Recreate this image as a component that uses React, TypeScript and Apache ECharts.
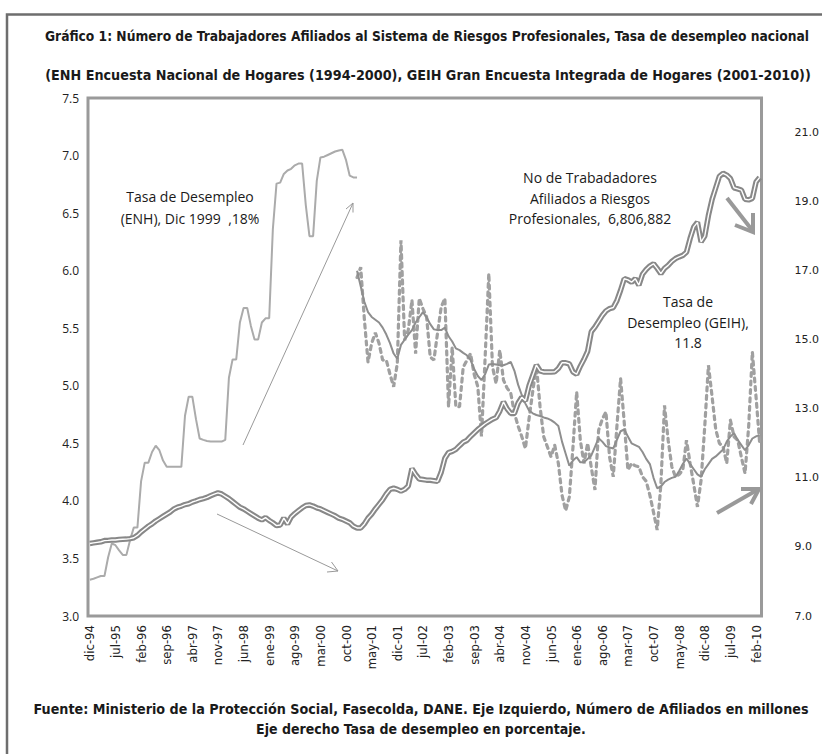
import React, { useEffect, useRef } from "react";
import * as echarts from "echarts";

const MONTHS = ["ene", "feb", "mar", "abr", "may", "jun", "jul", "ago", "sep", "oct", "nov", "dic"];
const N_MONTHS = 184; // dic-94 .. mar-10

// Tasa de desempleo ENH (%), dic-94 .. ene-01 (right axis)
const enh = [
  8.05, 8.08, 8.12, 8.16, 8.16, 8.7, 9.1, 9.05, 8.9, 8.77,
  8.77, 9.2, 9.56, 9.56, 10.9, 11.44, 11.44, 11.75, 11.93, 11.8,
  11.5, 11.32, 11.32, 11.32, 11.32, 11.32, 12.8, 13.35, 13.35, 12.7,
  12.14, 12.1, 12.07, 12.05, 12.05, 12.05, 12.05, 12.1, 13.9, 14.43,
  14.43, 15.5, 15.92, 15.92, 15.4, 15.01, 15.01, 15.5, 15.62, 15.62,
  18.2, 19.52, 19.55, 19.8, 19.9, 19.95, 20.05, 20.1, 20.1, 18.9,
  18.0, 18.0, 19.6, 20.28, 20.3, 20.35, 20.4, 20.45, 20.48, 20.5,
  20.2, 19.75, 19.7, 19.7,
];

// Afiliados a Riesgos Profesionales (millones), dic-94 .. mar-10 (left axis)
const afiliados = [
  3.63, 3.635, 3.64, 3.645, 3.655, 3.657, 3.66, 3.66, 3.665, 3.667,
  3.668, 3.672, 3.68, 3.70, 3.73, 3.755, 3.78, 3.80, 3.825, 3.845,
  3.865, 3.885, 3.905, 3.93, 3.945, 3.955, 3.968, 3.975, 3.99, 4.0,
  4.012, 4.02, 4.03, 4.045, 4.058, 4.07, 4.06, 4.04, 4.02, 3.995,
  3.97, 3.945, 3.93, 3.91, 3.89, 3.87, 3.85, 3.835, 3.855, 3.83,
  3.81, 3.785, 3.79, 3.85, 3.80, 3.86, 3.89, 3.915, 3.94, 3.96,
  3.965, 3.955, 3.94, 3.93, 3.915, 3.90, 3.885, 3.87, 3.85, 3.84,
  3.825, 3.81, 3.78, 3.765, 3.765, 3.80, 3.85, 3.885, 3.93, 3.97,
  4.01, 4.06, 4.10, 4.11, 4.10, 4.085, 4.10, 4.13, 4.28, 4.23,
  4.19, 4.186, 4.18, 4.18, 4.175, 4.17, 4.25, 4.37, 4.42, 4.43,
  4.448, 4.48, 4.51, 4.525, 4.56, 4.59, 4.62, 4.645, 4.67, 4.69,
  4.71, 4.724, 4.78, 4.86, 4.80, 4.76, 4.76, 4.85, 4.90, 4.87,
  5.0, 5.09, 5.18, 5.13, 5.12, 5.12, 5.12, 5.122, 5.15, 5.20,
  5.20, 5.19, 5.12, 5.10, 5.17, 5.23, 5.30, 5.47, 5.51, 5.56,
  5.61, 5.65, 5.67, 5.68, 5.74, 5.83, 5.93, 5.92, 5.90, 5.93,
  5.875, 5.97, 6.01, 6.04, 6.06, 6.02, 5.975, 6.02, 6.046, 6.08,
  6.105, 6.12, 6.133, 6.16, 6.28, 6.38, 6.42, 6.25, 6.30, 6.48,
  6.62, 6.72, 6.82, 6.846, 6.83, 6.80, 6.72, 6.71, 6.70, 6.62,
  6.615, 6.628, 6.77, 6.81,
];

// GEIH starts at ene-01 (index 73)
const GEIH_START = 73;

// Tasa de desempleo GEIH mensual (%), ene-01 .. mar-10 (right axis, dashed)
const geihMensual = [
  16.8, 17.1, 15.6, 14.35, 14.9, 15.2, 14.9, 14.41, 14.41, 14.0,
  13.64, 14.31, 17.88, 14.99, 15.28, 16.15, 14.6, 16.2, 15.9, 15.66,
  14.5, 14.41, 15.2, 15.95, 16.2, 13.06, 14.79, 13.06, 13.06, 14.2,
  14.4, 14.6, 14.0, 13.64, 12.2, 14.5, 16.92, 14.22, 13.73, 14.7,
  13.83, 13.6, 13.45, 12.87, 12.5, 12.2, 11.85, 12.72, 13.5, 14.26,
  13.06, 12.19, 11.9, 11.61, 11.95, 11.42, 10.5, 10.05, 10.45, 11.9,
  13.49, 12.09, 11.42, 12.0, 11.3, 10.65, 12.38, 12.7, 12.91, 11.6,
  11.03, 12.5, 13.88, 12.6, 11.23, 11.42, 11.35, 11.32, 11.03, 10.9,
  10.5, 10.0, 9.49, 10.8, 13.1, 12.09, 11.32, 11.03, 11.1, 11.23,
  12.09, 11.42, 10.8, 10.16, 10.94, 12.5, 14.26, 13.35, 12.4, 12.0,
  11.9, 11.42, 12.67, 12.19, 12.09, 11.6, 11.13, 12.5, 14.65, 13.35,
  12.0,
];

// Tasa de desempleo GEIH (tendencia), ene-01 .. mar-10 (right axis, solid)
const geihTendencia = [
  17.0, 16.55, 16.1, 15.8, 15.66, 15.58, 15.5, 15.35, 15.15, 14.9,
  14.6, 14.45, 14.85, 15.0, 15.15, 15.28, 15.5, 15.65, 15.8, 15.65,
  15.45, 15.3, 15.28, 15.28, 15.35, 15.1, 14.95, 14.75, 14.7, 14.62,
  14.55, 14.42, 14.15, 13.95, 13.83, 14.0, 14.28, 14.3, 14.28, 14.26,
  14.26, 14.3, 14.36, 14.1, 13.7, 13.4, 13.15, 12.95, 12.87, 12.82,
  12.79, 12.75, 12.72, 12.67, 12.6, 12.5, 12.05, 11.7, 11.35, 11.5,
  11.6, 11.45, 11.45, 11.55, 11.65, 11.9, 12.15, 12.05, 11.92, 11.88,
  11.85, 12.1, 12.35, 12.4, 12.2, 12.0, 11.95, 11.9, 11.75, 11.55,
  11.4, 11.0, 10.7, 10.75, 10.88, 10.95, 11.0, 11.03, 11.2, 11.4,
  11.56, 11.4, 11.25, 11.1, 11.03, 11.25, 11.4, 11.55, 11.62, 11.72,
  11.82, 12.05, 12.2, 12.29, 12.1, 11.95, 11.8, 11.95, 12.14, 12.2,
  12.24,
];

const TITLE_1 = "Gráfico 1: Número de Trabajadores Afiliados al Sistema de Riesgos Profesionales, Tasa de desempleo nacional";
const TITLE_2 = "(ENH Encuesta Nacional de Hogares (1994-2000), GEIH Gran Encuesta Integrada de Hogares (2001-2010))";
const FOOT_1 = "Fuente: Ministerio de la Protección Social, Fasecolda, DANE. Eje Izquierdo, Número de Afiliados en millones";
const FOOT_2 = "Eje derecho Tasa de desempleo en porcentaje.";

const categories: string[] = [];
for (let k = 0; k < N_MONTHS; k++) {
  const m = (11 + k) % 12;
  const y = (94 + Math.floor((11 + k) / 12)) % 100;
  categories.push(MONTHS[m] + "-" + String(y).padStart(2, "0"));
}

function pad(values: number[], start: number): (number | null)[] {
  const out: (number | null)[] = [];
  for (let k = 0; k < N_MONTHS; k++) {
    const j = k - start;
    out.push(j >= 0 && j < values.length ? values[j] : null);
  }
  return out;
}

const NARROW = "'Liberation Sans Narrow', 'Arial Narrow', 'DejaVu Sans Condensed', sans-serif";
const ANNOT = "'Open Sans', 'Noto Sans', sans-serif";

function arrowHead(tip: number[], w1: number[], w2: number[], width: number) {
  return {
    type: "polyline",
    shape: { points: [w1, tip, w2] },
    style: { stroke: "#999", lineWidth: width, fill: null, lineJoin: "miter" },
    z: 100,
  };
}

export default function App() {
  const ref = useRef<HTMLDivElement>(null);
  useEffect(() => {
    if (!ref.current) return;
    const chart = echarts.init(ref.current, undefined, { renderer: "svg" });
    const txt = (x: number, y: number, text: string, font: any) => ({
      type: "text",
      x,
      y,
      z: 100,
      ...(font.scaleX ? { scaleX: font.scaleX } : {}),
      style: {
        text,
        fill: font.fill || "#1a1a1a",
        fontSize: font.size,
        fontFamily: font.family,
        fontWeight: font.weight || "normal",
        lineHeight: font.lineHeight,
        align: "center",
        textAlign: "center",
        verticalAlign: "middle",
        textVerticalAlign: "middle",
      },
    });
    chart.setOption({
      animation: false,
      backgroundColor: "#ffffff",
      grid: {
        left: 88,
        right: 60,
        top: 98,
        bottom: 138,
        show: true,
        borderColor: "#9a9a9a",
        borderWidth: 3,
        backgroundColor: "transparent",
      },
      xAxis: {
        type: "category",
        data: categories,
        boundaryGap: true,
        axisLine: { show: false },
        axisTick: { show: false },
        splitLine: { show: false },
        axisLabel: {
          interval: 6,
          rotate: 90,
          margin: 9,
          fontSize: 13,
          fontFamily: NARROW,
          color: "#222",
        },
      },
      yAxis: [
        {
          type: "value",
          min: 3,
          max: 7.5,
          interval: 0.5,
          axisLine: { show: false },
          axisTick: { show: false },
          splitLine: { show: false },
          axisLabel: {
            formatter: (v: number) => v.toFixed(1),
            margin: 9,
            fontSize: 12,
            fontFamily: ANNOT,
            color: "#222",
          },
        },
        {
          type: "value",
          min: 7,
          max: 22,
          interval: 1,
          axisLine: { show: false },
          axisTick: { show: false },
          splitLine: { show: false },
          axisLabel: {
            formatter: (v: number) => (Math.round(v) % 2 === 1 ? v.toFixed(1) : ""),
            margin: 33,
            fontSize: 11,
            fontFamily: "'DejaVu Sans', sans-serif",
            color: "#222",
          },
        },
      ],
      series: [
        {
          name: "Tasa de Desempleo (ENH)",
          type: "line",
          yAxisIndex: 1,
          data: pad(enh, 0),
          showSymbol: false,
          connectNulls: false,
          lineStyle: { color: "#ababab", width: 2 },
          z: 2,
        },
        {
          name: "Tasa de Desempleo (GEIH) mensual",
          type: "line",
          yAxisIndex: 1,
          data: pad(geihMensual, GEIH_START),
          showSymbol: false,
          lineStyle: { color: "#a0a0a0", width: 3.2, type: [4, 4.5], cap: "round" },
          z: 3,
        },
        {
          name: "Tasa de Desempleo (GEIH) tendencia",
          type: "line",
          yAxisIndex: 1,
          data: pad(geihTendencia, GEIH_START),
          showSymbol: false,
          lineStyle: { color: "#8e8e8e", width: 2 },
          z: 4,
        },
        {
          name: "Afiliados",
          type: "line",
          yAxisIndex: 0,
          data: afiliados,
          showSymbol: false,
          lineStyle: { color: "#888888", width: 5.5 },
          z: 5,
        },
        {
          name: "Afiliados (interior)",
          type: "line",
          yAxisIndex: 0,
          data: afiliados,
          showSymbol: false,
          lineStyle: { color: "#ffffff", width: 1.4 },
          z: 6,
        },
      ],
      graphic: [
        {
          type: "rect",
          shape: { x: 7, y: 14.5, width: 830, height: 760 },
          style: { fill: null, stroke: "#6e6e6e", lineWidth: 2.5 },
          z: 100,
        },
        txt(427, 36, TITLE_1, { size: 14, family: NARROW, weight: "bold", scaleX: 0.978 }),
        txt(428, 75, TITLE_2, { size: 14, family: NARROW, weight: "bold", scaleX: 1.017 }),
        txt(421, 709, FOOT_1, { size: 14, family: NARROW, weight: "bold", scaleX: 1.015 }),
        txt(421, 729, FOOT_2, { size: 14, family: NARROW, weight: "bold", scaleX: 1.0 }),
        txt(190, 207, "Tasa de Desempleo\n(ENH), Dic 1999  ,18%", { size: 14, family: ANNOT, lineHeight: 22 }),
        txt(590, 198, "No de Trabadadores\nAfiliados a Riesgos\nProfesionales,  6,806,882", { size: 14, family: ANNOT, lineHeight: 20.5 }),
        txt(688, 322, "Tasa de\nDesempleo (GEIH),\n11.8", { size: 14, family: ANNOT, lineHeight: 20.5 }),
        // thin arrows
        { type: "line", shape: { x1: 243, y1: 445, x2: 353, y2: 203 }, style: { stroke: "#999", lineWidth: 1 }, z: 100 },
        arrowHead([353, 203], [346, 209], [353, 212.5], 1),
        { type: "line", shape: { x1: 217, y1: 514, x2: 338, y2: 571 }, style: { stroke: "#999", lineWidth: 1 }, z: 100 },
        arrowHead([338, 571], [331.5, 562], [327, 572], 1),
        // thick arrows
        { type: "line", shape: { x1: 727, y1: 198, x2: 752, y2: 230 }, style: { stroke: "#999", lineWidth: 4 }, z: 100 },
        arrowHead([753, 232], [753, 213], [735, 225], 4),
        { type: "line", shape: { x1: 717, y1: 513, x2: 757, y2: 490 }, style: { stroke: "#999", lineWidth: 4 }, z: 100 },
        arrowHead([759, 489], [741, 489], [751, 504], 4),
      ],
    });
    return () => chart.dispose();
  }, []);
  return (
    <div
      ref={ref}
      style={{ position: "absolute", left: 0, top: 0, width: 822, height: 754, background: "#fff" }}
    />
  );
}
